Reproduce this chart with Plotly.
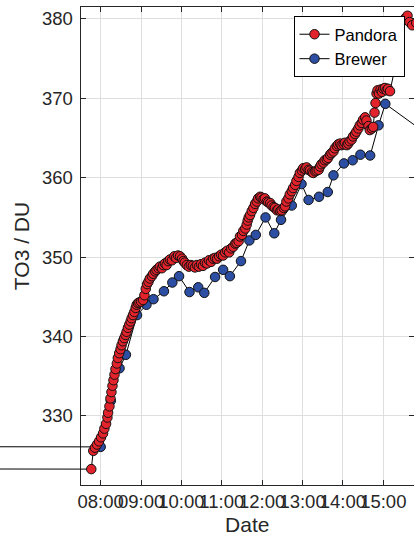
import pandas as pd
import plotly.graph_objects as go

DAY = "2019-03-20"
PREV_DAY = "2019-03-19"

# ---------------- data ----------------
pandora_time = [
    "07:46", "07:49", "07:51:30", "07:54:30", "07:57:30", "08:00:30", "08:03:30", "08:05:30",
    "08:08", "08:10", "08:11", "08:13", "08:14:30", "08:16", "08:17:30", "08:19", "08:20:30",
    "08:22", "08:24", "08:25:30", "08:27:30", "08:29:30", "08:31", "08:33", "08:35", "08:37",
    "08:38:30", "08:40:30", "08:42:30", "08:44:30", "08:46", "08:48", "08:50", "08:52",
    "08:53:30", "08:55:30", "08:57:30", "09:00", "09:03", "09:05", "09:07", "09:09", "09:11",
    "09:13", "09:16", "09:18", "09:21", "09:23", "09:26", "09:28", "09:31", "09:33", "09:35:30",
    "09:38", "09:40:30", "09:43", "09:46", "09:49:30", "09:52", "09:55", "09:58", "10:01",
    "10:03", "10:05", "10:08", "10:11", "10:14", "10:17", "10:20", "10:23", "10:26", "10:29",
    "10:32", "10:35", "10:38", "10:41", "10:44", "10:47", "10:50", "10:53", "10:56", "10:59",
    "11:02", "11:05", "11:08", "11:11", "11:14", "11:17", "11:20", "11:22", "11:25", "11:27",
    "11:30", "11:32", "11:35", "11:37", "11:38:30", "11:40", "11:42", "11:44:30", "11:47",
    "11:49:30", "11:52", "11:54", "11:57", "11:59", "12:02", "12:04", "12:07", "12:09", "12:12",
    "12:14", "12:17", "12:19", "12:22", "12:24", "12:27", "12:29", "12:32", "12:34", "12:36",
    "12:39", "12:41", "12:44", "12:46", "12:49", "12:51", "12:54", "12:56", "12:59", "13:01",
    "13:04", "13:06", "13:09", "13:11", "13:14", "13:16", "13:19", "13:21", "13:24", "13:26",
    "13:28", "13:31", "13:33", "13:36", "13:38", "13:41", "13:43", "13:46", "13:48", "13:51",
    "13:53", "13:56", "13:58", "14:01", "14:03", "14:06", "14:08", "14:10", "14:13", "14:15",
    "14:18", "14:20", "14:23", "14:25", "14:28", "14:30", "14:33", "14:35", "14:38", "14:40",
    "14:43", "14:45", "14:47", "14:48:30", "14:50", "14:51:30", "14:53:30", "14:56", "14:58",
    "15:00", "15:02:30", "15:05", "15:07", "15:10", "15:33", "15:36", "15:39", "15:43", "15:49",
]
pandora_to3 = [
    323.3, 325.6, 326.0, 326.4, 326.8, 327.3, 327.8, 328.4,
    329.0, 329.8, 330.4, 331.2, 332.2, 333.0, 333.8, 334.5, 335.2,
    335.9, 336.6, 337.3, 337.9, 338.4, 338.9, 339.4, 339.8, 340.2,
    340.6, 341.1, 341.5, 341.9, 342.3, 342.7, 343.1, 343.6,
    344.0, 344.2, 344.3, 344.4, 344.6, 345.2, 346.0, 346.6, 346.9,
    347.3, 347.6, 347.9, 348.2, 348.4, 348.6, 348.8, 348.6, 349.0, 349.2,
    349.0, 349.5, 349.7, 349.6, 350.1, 349.9, 350.2, 350.1, 349.8,
    349.5, 349.3, 349.0, 348.8, 349.0, 348.9, 348.7, 349.0, 348.8, 349.1,
    348.9, 349.3, 349.2, 349.6, 349.4, 349.8, 349.9, 349.8, 350.1, 350.3,
    350.2, 350.6, 350.8, 350.6, 351.1, 351.3, 351.7, 351.8, 352.0, 352.6,
    352.8, 353.3, 353.6, 354.1, 354.6, 355.0, 355.3, 355.8, 356.2,
    356.7, 357.0, 357.4, 357.6, 357.5, 357.3, 357.4, 357.0, 356.9, 356.8,
    356.5, 356.3, 356.2, 355.9, 356.0, 355.8, 355.9, 356.2, 356.4, 357.0,
    357.4, 357.9, 358.3, 358.7, 359.1, 359.6, 360.1, 360.6, 360.9, 361.2,
    361.1, 361.3, 361.0, 360.9, 360.7, 360.6, 360.8, 360.9, 361.0, 361.4,
    361.7, 361.9, 362.2, 362.3, 362.5, 362.9, 363.1, 363.3, 363.7, 364.0,
    364.2, 364.3, 364.1, 364.2, 364.4, 364.1, 364.3, 364.6, 364.8, 365.2,
    365.5, 365.8, 366.2, 366.6, 366.9, 367.3, 367.6, 367.2, 366.5, 366.0,
    366.2, 366.4, 368.2, 369.4, 370.6, 371.0, 370.6, 371.1, 370.8,
    371.2, 371.3, 371.0, 371.2, 370.9, 380.1, 380.4, 379.6, 379.2, 379.5,
]

brewer_time = [
    "08:00", "08:15", "08:28", "08:37:30", "08:54", "09:08", "09:18:30", "09:34", "09:46:30",
    "09:56:30", "10:12", "10:25", "10:34", "10:50", "11:02", "11:12", "11:28:30", "11:41",
    "11:50:30", "12:05", "12:18", "12:28", "12:44", "12:58:30", "13:09", "13:24:30", "13:37:30",
    "13:46", "14:01:30", "14:14:30", "14:26", "14:40:30", "14:53", "15:03", "16:00",
]
brewer_to3 = [
    326.1, 331.9, 336.0, 337.7, 342.7, 344.0, 344.7, 345.7, 346.8,
    347.6, 345.6, 346.2, 345.5, 347.5, 348.4, 347.6, 349.5, 352.1,
    352.8, 355.0, 353.0, 354.7, 356.5, 359.2, 357.2, 357.6, 358.2,
    360.3, 361.8, 362.2, 362.9, 362.8, 366.6, 369.3, 365.8,
]

# last samples of the previous day (lines entering from the left edge)
pandora_prev_time = "16:00"
pandora_prev_to3 = 323.4
brewer_prev_time = "16:00"
brewer_prev_to3 = 326.2

y_ticks = [330, 340, 350, 360, 370, 380]
x_ticks = ["08:00", "09:00", "10:00", "11:00", "12:00", "13:00", "14:00", "15:00"]

# ---------------- layout geometry ----------------
W, H = 414, 539
M_T, M_B = 7, 54
PLOT_LEFT_PX = 80.5
x_lo = pd.Timestamp(f"{DAY} 07:30:00")
x_hi = pd.Timestamp(f"{DAY} 15:45:40")
y_range = [321.3, 381.5]
dom0 = PLOT_LEFT_PX / W
sec_per_px = (x_hi - x_lo).total_seconds() / (W - PLOT_LEFT_PX)
x_full_lo = x_lo - pd.Timedelta(seconds=sec_per_px * PLOT_LEFT_PX)

def ts(day, hhmm):
    return pd.Timestamp(f"{day} {hhmm}")

p_x = [ts(PREV_DAY, pandora_prev_time)] + [ts(DAY, t) for t in pandora_time]
p_y = [pandora_prev_to3] + pandora_to3
b_x = [ts(PREV_DAY, brewer_prev_time)] + [ts(DAY, t) for t in brewer_time]
b_y = [brewer_prev_to3] + brewer_to3

RED = "#e3232c"
BLUE = "#2c4ea3"
FONT = "Liberation Sans, Arial, sans-serif"
AX = "#262626"

fig = go.Figure()
# empty traces so that the framing axes (x/y and right-side y3) are drawn
fig.add_trace(go.Scatter(x=[], y=[], xaxis="x", yaxis="y", showlegend=False, hoverinfo="skip"))
fig.add_trace(go.Scatter(x=[], y=[], xaxis="x", yaxis="y3", showlegend=False, hoverinfo="skip"))
fig.add_trace(go.Scatter(
    x=b_x, y=b_y, name="Brewer", mode="lines+markers", xaxis="x2", yaxis="y2",
    line=dict(color="black", width=1),
    marker=dict(size=9.5, color=BLUE, line=dict(color="#111111", width=1)),
))
fig.add_trace(go.Scatter(
    x=p_x, y=p_y, name="Pandora", mode="lines+markers", xaxis="x2", yaxis="y2",
    line=dict(color="black", width=1),
    marker=dict(size=9.5, color=RED, line=dict(color="#111111", width=1)),
))

fig.update_layout(
    width=W, height=H,
    margin=dict(l=0, r=0, t=M_T, b=M_B, pad=0),
    paper_bgcolor="white", plot_bgcolor="rgba(0,0,0,0)",
    font=dict(family=FONT, size=18, color=AX),
    showlegend=True,
    legend=dict(
        x=404.5 / W, xanchor="right", y=1 - (16 - M_T) / (H - M_T - M_B), yanchor="top",
        bgcolor="white", bordercolor="black", borderwidth=1,
        font=dict(family=FONT, size=16.5, color="black"),
        traceorder="reversed", itemwidth=30, tracegroupgap=0,
    ),
    xaxis=dict(
        type="date", domain=[dom0, 1], anchor="y",
        range=[x_lo, x_hi],
        tickvals=[ts(DAY, t) for t in x_ticks], ticktext=x_ticks, tickangle=0,
        ticks="inside", ticklen=5, tickcolor=AX, tickwidth=1,
        showline=True, linecolor=AX, linewidth=1, mirror="ticks",
        showgrid=True, gridcolor="#dedede", gridwidth=1, zeroline=False,
        tickfont=dict(size=18.5, color=AX),
        title=dict(text="Date", font=dict(size=21, color=AX), standoff=6),
        automargin=False, fixedrange=True,
    ),
    yaxis=dict(
        domain=[0, 1], anchor="x", range=y_range,
        tickvals=y_ticks, ticks="inside", ticklen=5, tickcolor=AX, tickwidth=1,
        showline=True, linecolor=AX, linewidth=1, mirror=False,
        showgrid=True, gridcolor="#dedede", gridwidth=1, zeroline=False,
        tickfont=dict(size=18.5, color=AX), ticklabelstandoff=3,
        title=dict(text="TO3 / DU", font=dict(size=21, color=AX), standoff=6),
        automargin=False, fixedrange=True,
    ),
    yaxis3=dict(
        overlaying="y", side="right", anchor="x", range=y_range,
        tickvals=y_ticks, ticks="inside", ticklen=5, tickcolor=AX, tickwidth=1,
        showline=False, showgrid=False, zeroline=False, showticklabels=False,
        automargin=False, fixedrange=True,
    ),
    xaxis2=dict(
        type="date", domain=[0, 1], anchor="y2", range=[x_full_lo, x_hi],
        visible=False, showgrid=False, zeroline=False, fixedrange=True,
    ),
    yaxis2=dict(
        domain=[0, 1], anchor="x2", range=y_range,
        visible=False, showgrid=False, zeroline=False, fixedrange=True,
    ),
)

fig.write_html(
    "out.html",
    config={"displayModeBar": False},
    post_script="document.body.style.margin='0';document.body.style.padding='0';",
)
